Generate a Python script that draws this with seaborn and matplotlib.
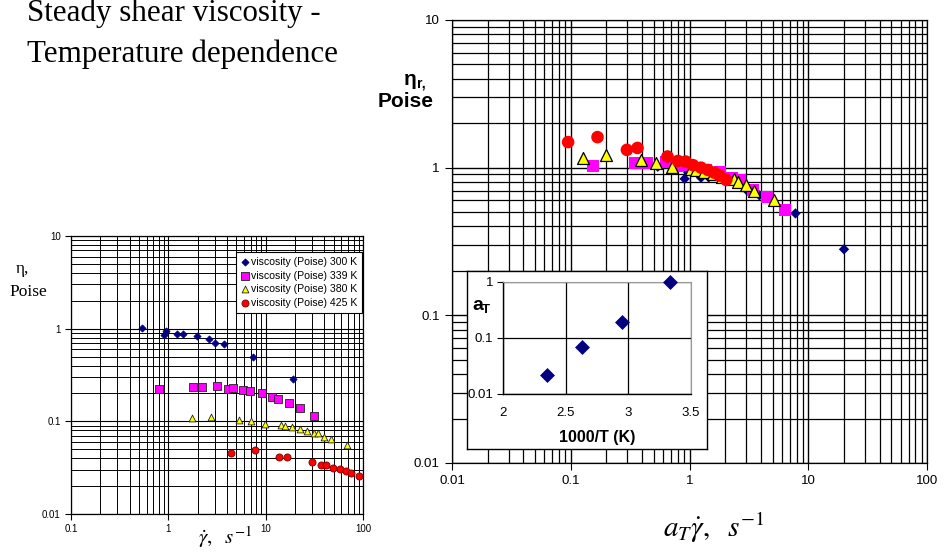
import numpy as np
import pandas as pd
import matplotlib
matplotlib.use("Agg")
import matplotlib.pyplot as plt
import seaborn as sns
from matplotlib.ticker import LogLocator, FuncFormatter, NullFormatter, FixedLocator

# ---------------- data ----------------
# left panel: viscosity vs shear rate at four temperatures
T300_x = [0.54, 0.91, 0.953, 1.22, 1.43, 1.99, 2.64, 3.01, 3.76, 7.41, 19.1]
T300_y = [1.02, 0.855, 0.95, 0.877, 0.88, 0.834, 0.775, 0.708, 0.68, 0.493, 0.284]
T339_x = [0.80, 1.78, 2.23, 3.19, 4.07, 4.66, 5.80, 6.95, 9.10, 11.7, 13.4, 17.5, 22.3, 31.6]
T339_y = [0.226, 0.235, 0.235, 0.239, 0.226, 0.231, 0.220, 0.210, 0.200, 0.182, 0.176, 0.156, 0.139, 0.114]
T380_x = [1.77, 2.74, 5.36, 7.12, 9.84, 14.4, 15.9, 18.7, 22.3, 26.4, 31.4, 34.2, 39.8, 46.9, 68.5]
T380_y = [0.108, 0.112, 0.103, 0.100, 0.094, 0.091, 0.090, 0.087, 0.083, 0.078, 0.075, 0.074, 0.068, 0.065, 0.056]
T425_x = [4.40, 7.83, 13.6, 16.7, 29.7, 36.7, 42.0, 48.8, 58.5, 66.8, 75.9, 91.6]
T425_y = [0.0458, 0.049, 0.0409, 0.0415, 0.036, 0.0338, 0.0336, 0.0316, 0.0305, 0.0292, 0.0278, 0.026]

# right panel: master curve
R300_x = [0.54, 0.91, 0.953, 1.25, 1.45, 1.99, 2.64, 3.08, 3.88, 7.8, 20.0]
R300_y = [1.016, 0.84, 0.95, 0.855, 0.86, 0.834, 0.775, 0.695, 0.65, 0.49, 0.28]
R339_x = [0.155, 0.35, 0.44, 0.63, 0.80, 0.92, 1.14, 1.37, 1.79, 2.30, 2.64, 3.45, 4.50, 6.40]
R339_y = [1.03, 1.07, 1.07, 1.09, 1.03, 1.05, 1.00, 0.96, 0.93, 0.85, 0.82, 0.71, 0.63, 0.52]
R380_x = [0.126, 0.20, 0.389, 0.52, 0.715, 1.02, 1.13, 1.33, 1.58, 1.87, 2.35, 2.55, 3.0, 3.52, 5.12]
R380_y = [1.17, 1.21, 1.12, 1.08, 1.016, 0.98, 0.97, 0.94, 0.90, 0.87, 0.834, 0.80, 0.76, 0.70, 0.607]
R425_x = [0.095, 0.168, 0.297, 0.365, 0.653, 0.80, 0.93, 1.07, 1.25, 1.43, 1.62, 1.79, 2.04]
R425_y = [1.49, 1.61, 1.32, 1.36, 1.19, 1.11, 1.10, 1.04, 1.00, 0.965, 0.925, 0.883, 0.825]

# inset: shift factor
inv_T = [2.353, 2.632, 2.950, 3.333]
a_T = [0.0214, 0.070, 0.192, 1.0]

legend_labels = ["viscosity (Poise) 300 K", "viscosity (Poise) 339 K",
                 "viscosity (Poise) 380 K", "viscosity (Poise) 425 K"]

# ---------------- style ----------------
sns.set_style("white")
plt.rcParams["font.family"] = ["Liberation Sans", "DejaVu Sans"]
plt.rcParams["text.color"] = "black"
plt.rcParams["axes.labelcolor"] = "black"
plt.rcParams["xtick.color"] = "black"
plt.rcParams["ytick.color"] = "black"

NAVY = "#000080"
MAG = "#FF00FF"
YEL = "#FFFF00"
RED = "#FF0000"

W, H = 946, 552
fig = plt.figure(figsize=(W / 100, H / 100), dpi=100)


def px_rect(x0, y0, x1, y1):
    return [x0 / W, 1 - y1 / H, (x1 - x0) / W, (y1 - y0) / H]


fmt = FuncFormatter(lambda v, p: f"{v:g}")


def setup_log(ax, xlim, ylim, fs, lw_major, lw_minor):
    ax.set_xscale("log")
    ax.set_yscale("log")
    ax.set_xlim(*xlim)
    ax.set_ylim(*ylim)
    for axis in (ax.xaxis, ax.yaxis):
        axis.set_major_locator(LogLocator(base=10, numticks=20))
        axis.set_minor_locator(LogLocator(base=10, subs=np.arange(2, 10), numticks=200))
        axis.set_major_formatter(fmt)
        axis.set_minor_formatter(NullFormatter())
    ax.grid(which="major", color="black", lw=lw_major)
    ax.grid(which="minor", color="black", lw=lw_minor)
    ax.set_axisbelow(True)
    ax.tick_params(which="major", direction="out", length=4, width=0.8,
                   labelsize=fs, color="black", labelcolor="black", left=True, bottom=True)
    ax.tick_params(which="minor", length=0)
    for s in ax.spines.values():
        s.set_color("black")
        s.set_linewidth(0.9)
    ax.set_xlabel("")
    ax.set_ylabel("")


# ---------------- left panel ----------------
axL = fig.add_axes(px_rect(71, 236, 363, 514))
dfL = pd.concat([
    pd.DataFrame({"x": T300_x, "y": T300_y, "s": legend_labels[0]}),
    pd.DataFrame({"x": T339_x, "y": T339_y, "s": legend_labels[1]}),
    pd.DataFrame({"x": T380_x, "y": T380_y, "s": legend_labels[2]}),
    pd.DataFrame({"x": T425_x, "y": T425_y, "s": legend_labels[3]}),
])
styles_L = [
    ("D", NAVY, NAVY, 13),
    ("s", MAG, "#222222", 30),
    ("^", YEL, "#222222", 24),
    ("o", RED, "#7a0000", 26),
]
for lab, (mk, fc, ec, sz) in zip(legend_labels, styles_L):
    d = dfL[dfL["s"] == lab]
    sns.scatterplot(data=d, x="x", y="y", ax=axL, marker=mk, color=fc,
                    edgecolor=ec, linewidth=0.6, s=sz, label=lab, zorder=3)
setup_log(axL, (0.1, 100), (0.01, 10), 7, 0.8, 0.7)
leg = axL.legend(loc="upper right", bbox_to_anchor=(0.997, 0.942), borderaxespad=0,
                 fontsize=7.6, frameon=True, fancybox=False, framealpha=1,
                 edgecolor="black", handlelength=0.8, handletextpad=0.15,
                 labelspacing=0.35, borderpad=0.45, markerscale=1.0)
leg.get_frame().set_linewidth(0.8)

fig.text(22 / W, 1 - 273 / H, "η,", family=["Liberation Serif", "DejaVu Serif"],
         fontsize=12.5, ha="center", va="baseline")
fig.text(28 / W, 1 - 296 / H, "Poise", family=["Liberation Serif", "DejaVu Serif"],
         fontsize=12.5, ha="center", va="baseline")
fig.text(225 / W, 1 - 544 / H, r"$\dot{\gamma},\ \ s^{-1}$", math_fontfamily="stix",
         fontsize=15, ha="center", va="baseline")

# ---------------- right panel ----------------
axR = fig.add_axes(px_rect(452, 20, 927, 463))
series_R = [
    (R300_x, R300_y, "D", NAVY, "none", 28, 0),
    (R339_x, R339_y, "s", MAG, "none", 74, 0),
    (R380_x, R380_y, "^", YEL, "black", 74, 0.9),
    (R425_x, R425_y, "o", RED, "none", 82, 0),
]
for xs, ys, mk, fc, ec, sz, lw in series_R:
    d = pd.DataFrame({"x": xs, "y": ys})
    sns.scatterplot(data=d, x="x", y="y", ax=axR, marker=mk, color=fc,
                    edgecolor=ec, linewidth=lw, s=sz, zorder=3, legend=False)
setup_log(axR, (0.01, 100), (0.01, 10), 9.5, 1.0, 0.9)
axR.tick_params(which="major", length=5, pad=4)

fig.text(410 / W, 1 - 85 / H, "η", fontsize=15, fontweight="bold", ha="center", va="baseline")
fig.text(417 / W, 1 - 87 / H, "r,", fontsize=10, fontweight="bold", ha="left", va="baseline")
fig.text(406 / W, 1 - 107 / H, "Poise", fontsize=15, fontweight="bold", ha="center", va="baseline")
fig.text(714 / W, 1 - 537 / H, r"$a_T\dot{\gamma},\ \ s^{-1}$", math_fontfamily="stix",
         fontsize=21, ha="center", va="baseline")

# ---------------- inset ----------------
axBox = fig.add_axes(px_rect(467, 271, 707, 449))
axBox.set_facecolor("white")
axBox.set_xticks([])
axBox.set_yticks([])
for s in axBox.spines.values():
    s.set_color("black")
    s.set_linewidth(1.0)
    s.set_visible(True)

axI = fig.add_axes(px_rect(503, 282, 691, 394))
axI.set_facecolor("white")
sns.scatterplot(x=inv_T, y=a_T, ax=axI, marker="D", color=NAVY, edgecolor=NAVY,
                linewidth=0, s=58, zorder=3, legend=False, clip_on=False)
axI.set_yscale("log")
axI.set_xlim(2, 3.5)
axI.set_ylim(0.01, 1)
axI.xaxis.set_major_locator(FixedLocator([2, 2.5, 3, 3.5]))
axI.yaxis.set_major_locator(FixedLocator([0.01, 0.1, 1]))
axI.yaxis.set_minor_locator(FixedLocator([]))
axI.xaxis.set_major_formatter(fmt)
axI.yaxis.set_major_formatter(fmt)
axI.grid(which="major", color="black", lw=0.9)
axI.set_axisbelow(True)
axI.tick_params(axis="y", which="major", direction="out", length=4, width=0.8,
                labelsize=9.5, left=True, pad=3, color="black", labelcolor="black")
axI.tick_params(axis="x", which="major", direction="out", length=0, labelsize=9.5, pad=9,
                labelcolor="black")
axI.tick_params(which="minor", length=0)
axI.spines["left"].set_color("black")
axI.spines["bottom"].set_color("black")
axI.spines["left"].set_linewidth(1.0)
axI.spines["bottom"].set_linewidth(1.0)
axI.spines["top"].set_color("#999999")
axI.spines["right"].set_color("#999999")
axI.spines["top"].set_linewidth(0.8)
axI.spines["right"].set_linewidth(0.8)
axI.set_xlabel("")
axI.set_ylabel("")

fig.text(597 / W, 1 - 442 / H, "1000/T (K)", fontsize=11.5, fontweight="bold",
         ha="center", va="baseline")
fig.text(472 / W, 1 - 310 / H, "a", fontsize=14, fontweight="bold", ha="left", va="baseline")
fig.text(482 / W, 1 - 313 / H, "T", fontsize=9.5, fontweight="bold", ha="left", va="baseline")

# ---------------- title ----------------
fig.text(27 / W, 1 - 21 / H, "Steady shear viscosity -", family=["Liberation Serif", "DejaVu Serif"],
         fontsize=22.3, ha="left", va="baseline")
fig.text(27 / W, 1 - 62 / H, "Temperature dependence", family=["Liberation Serif", "DejaVu Serif"],
         fontsize=22.3, ha="left", va="baseline")

fig.savefig("out.png", dpi=100)
